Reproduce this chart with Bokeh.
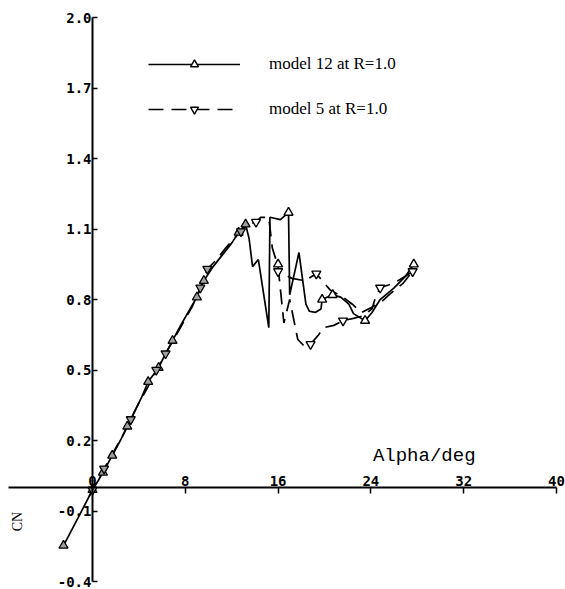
import math
from bokeh.plotting import figure
from bokeh.models import (Range1d, LinearAxis, FixedTicker, PrintfTickFormatter,
                          Legend, LegendItem, Label)
from bokeh.embed import file_html
from bokeh.resources import INLINE

# ---- data ----
alpha12 = [-2.5, -1.2, 0.0, 0.5, 0.9, 1.7, 2.4, 3.0, 3.5, 4.2, 4.8, 5.7, 6.3, 6.9, 7.6, 8.3,
           9.0, 9.6, 10.4, 11.2, 12.0, 12.6, 13.2, 13.5, 13.8, 14.3, 15.2, 15.3, 16.2, 16.9,
           17.0, 17.8, 18.4, 18.7, 19.2, 19.7, 19.8, 20.7, 21.4, 22.1, 22.5, 23.5, 24.1,
           24.8, 26.0, 27.0, 27.7]
cn12 = [-0.247, -0.125, -0.01, 0.03, 0.064, 0.136, 0.20, 0.26, 0.31, 0.38, 0.45, 0.51, 0.57,
        0.625, 0.69, 0.75, 0.81, 0.88, 0.94, 0.99, 1.04, 1.085, 1.12, 1.06, 0.94, 0.97, 0.68,
        1.15, 1.14, 1.17, 0.82, 1.0, 0.78, 0.75, 0.745, 0.76, 0.80, 0.82, 0.81, 0.78, 0.74,
        0.71, 0.745, 0.80, 0.85, 0.90, 0.95]

alpha5 = [-0.3, 0.3, 1.0, 1.8, 2.6, 3.3, 4.0, 4.8, 5.5, 6.2, 7.0, 7.8, 8.6, 9.3, 9.9, 10.7,
          11.5, 12.2, 12.8, 13.4, 14.1, 14.5, 15.2, 15.5, 16.0, 16.5, 17.0, 17.7, 18.3, 18.8,
          19.5, 19.9, 20.8, 21.6, 22.5, 23.3, 24.1, 24.4, 24.8, 26.0, 27.0, 27.6,
          26.8, 25.8, 24.9, 24.0, 23.2, 22.4, 21.6, 20.5, 19.3, 18.3, 17.2, 16.0]
cn5 = [-0.04, 0.02, 0.08, 0.15, 0.22, 0.29, 0.36, 0.43, 0.50, 0.56, 0.63, 0.70, 0.77, 0.85,
       0.93, 0.97, 1.02, 1.06, 1.09, 1.12, 1.13, 1.15, 1.15, 1.02, 0.94, 0.70, 0.80, 0.63,
       0.60, 0.61, 0.65, 0.68, 0.69, 0.71, 0.72, 0.73, 0.76, 0.81, 0.85, 0.87, 0.90, 0.92,
       0.87, 0.83, 0.79, 0.765, 0.745, 0.78, 0.81, 0.84, 0.91, 0.88, 0.89, 0.92]

# marker positions (subset of points carrying symbols)
mk12_alpha = [-2.5, 0.0, 0.9, 1.7, 3.0, 4.8, 5.7, 6.9, 9.0, 9.6, 12.6, 13.2, 16.0, 16.9,
              19.8, 20.7, 23.5, 27.7]
mk12_cn = [-0.247, -0.01, 0.064, 0.136, 0.26, 0.45, 0.51, 0.625, 0.81, 0.88, 1.085, 1.12,
           0.95, 1.17, 0.80, 0.82, 0.71, 0.95]
mk5_alpha = [0.0, 1.0, 3.3, 5.5, 6.3, 9.3, 9.9, 12.8, 14.1, 16.0, 18.8, 19.3, 21.6, 24.8,
             27.6]
mk5_cn = [-0.01, 0.08, 0.29, 0.50, 0.57, 0.85, 0.93, 1.09, 1.13, 0.92, 0.61, 0.91, 0.71,
          0.85, 0.92]

x_ticks = [0, 8, 16, 24, 32, 40]
y_ticks = [-0.4, -0.1, 0.2, 0.5, 0.8, 1.1, 1.4, 1.7, 2.0]

p = figure(width=565, height=589, x_range=Range1d(-7.5, 40.78), y_range=Range1d(-0.434, 2.03),
           output_backend="svg", toolbar_location=None, x_axis_location=None,
           y_axis_location=None, min_border_left=5, min_border_right=0, min_border_top=10,
           min_border_bottom=0)
for g in p.grid:
    g.visible = False
p.outline_line_color = None
p.background_fill_color = "white"

tick_font = "DejaVu Sans Mono"
xaxis = LinearAxis(fixed_location=0, ticker=FixedTicker(ticks=x_ticks),
                   formatter=PrintfTickFormatter(format="%d"), bounds=(-7.2, 40),
                   axis_line_width=2, major_tick_in=6, major_tick_out=0,
                   minor_tick_in=0, minor_tick_out=0, major_tick_line_width=1.5,
                   major_label_standoff=2, major_label_text_font=tick_font,
                   major_label_text_font_style="bold", major_label_text_font_size="14px",
                   major_label_text_color="black")
p.add_layout(xaxis, "above")
yaxis = LinearAxis(fixed_location=0, ticker=FixedTicker(ticks=y_ticks),
                   formatter=PrintfTickFormatter(format="%.1f"), bounds=(-0.4, 2.0),
                   axis_line_width=2, major_tick_in=5, major_tick_out=0,
                   minor_tick_in=0, minor_tick_out=0, major_tick_line_width=1.5,
                   major_label_standoff=1, major_label_text_font=tick_font,
                   major_label_text_font_style="bold", major_label_text_font_size="14px",
                   major_label_text_color="black")
p.add_layout(yaxis, "left")

l12 = p.line(alpha12, cn12, line_color="black", line_width=1.7)
l5 = p.line(alpha5, cn5, line_color="black", line_width=1.7, line_dash="15 8")

def split(ax, cy):
    g = [(a, c) for a, c in zip(ax, cy) if a < 14]
    w = [(a, c) for a, c in zip(ax, cy) if a >= 14]
    return ([a for a, _ in g], [c for _, c in g]), ([a for a, _ in w], [c for _, c in w])

(g12x, g12y), (w12x, w12y) = split(mk12_alpha, mk12_cn)
(g5x, g5y), (w5x, w5y) = split(mk5_alpha, mk5_cn)

p.scatter(g12x, g12y, marker="triangle", size=9, line_color="black", line_width=1.3,
          fill_color="#a0a0a0")
p.scatter(g5x, g5y, marker="inverted_triangle", size=9, line_color="black", line_width=1.3,
          fill_color="#a0a0a0")
s12 = p.scatter(w12x, w12y, marker="triangle", size=9, line_color="black", line_width=1.4,
                fill_color="white")
s5 = p.scatter(w5x, w5y, marker="inverted_triangle", size=9, line_color="black",
               line_width=1.4, fill_color="white")

legend = Legend(items=[LegendItem(label="model 12 at R=1.0", renderers=[l12, s12]),
                       LegendItem(label="model 5 at R=1.0", renderers=[l5, s5])],
                location=(143, 470), glyph_width=92, glyph_height=20, label_height=20,
                spacing=25, label_standoff=29, padding=0, margin=0,
                border_line_color=None, background_fill_alpha=0,
                label_text_font="Liberation Serif", label_text_font_size="17px",
                label_text_color="black")
p.add_layout(legend)

p.add_layout(Label(x=28.6, y=0.136, text="Alpha/deg", text_align="center",
                   text_baseline="middle", text_font="Liberation Mono",
                   text_font_size="19px", text_color="black"))
p.add_layout(Label(x=-6.47, y=-0.145, text="CN", angle=math.pi / 2, text_align="center",
                   text_baseline="middle", text_font="Liberation Serif",
                   text_font_size="14px", text_color="black"))

open("out.html", "w").write(file_html(p, INLINE))
